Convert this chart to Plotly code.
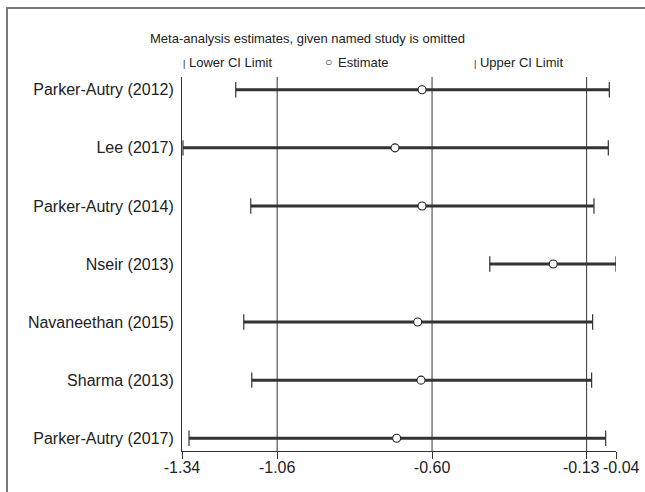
import plotly.graph_objects as go

studies = ["Parker-Autry (2012)", "Lee (2017)", "Parker-Autry (2014)", "Nseir (2013)",
           "Navaneethan (2015)", "Sharma (2013)", "Parker-Autry (2017)"]
lower = [-1.179, -1.337, -1.134, -0.418, -1.155, -1.131, -1.319]
estimate = [-0.621, -0.702, -0.621, -0.228, -0.634, -0.624, -0.697]
upper = [-0.060, -0.063, -0.106, -0.040, -0.110, -0.113, -0.071]

tick_vals = [-1.34, -1.055, -0.591, -0.128, -0.04]
tick_text = ["-1.34", "-1.06", "-0.60", "-0.13", "-0.04"]
grid_vals = [-1.055, -0.591, -0.128]

FONT = "Liberation Sans, Arial, sans-serif"
rows = list(range(1, len(studies) + 1))

fig = go.Figure()
for i, r in enumerate(rows):
    fig.add_trace(go.Scatter(x=[lower[i], upper[i]], y=[r, r], mode="lines",
                             line=dict(color="#333333", width=3), showlegend=False,
                             hoverinfo="skip"))
fig.add_trace(go.Scatter(x=lower, y=rows, mode="markers", name="Lower CI Limit",
                         marker=dict(symbol="line-ns", size=11, line=dict(color="#333", width=1.2)),
                         showlegend=False))
fig.add_trace(go.Scatter(x=upper, y=rows, mode="markers", name="Upper CI Limit",
                         marker=dict(symbol="line-ns", size=11, line=dict(color="#333", width=1.2)),
                         showlegend=False))
fig.add_trace(go.Scatter(x=estimate, y=rows, mode="markers", name="Estimate",
                         marker=dict(symbol="circle", size=8, color="white",
                                     line=dict(color="#222", width=1.1)),
                         showlegend=False))

shapes = []
for g in grid_vals:
    shapes.append(dict(type="line", xref="x", yref="paper", x0=g, x1=g, y0=0, y1=1,
                       line=dict(color="#333", width=1), layer="below"))

L, R, T, B = 182, 29, 77, 41
W, H = 645, 492
pw, ph = W - L - R, H - T - B


def px(x):
    return (x - L) / pw


def py(y):
    return (H - B - y) / ph


# outer frame
shapes.append(dict(type="rect", xref="paper", yref="paper", x0=px(7), x1=px(660),
                   y0=py(510), y1=py(8),
                   line=dict(color="#7a7a7a", width=2), layer="below"))

TXT = dict(family=FONT, size=13, color="#222")


def note(text, x, y, size=None):
    f = dict(TXT)
    if size:
        f["size"] = size
    return dict(text=text, x=px(x), y=py(y), xref="paper", yref="paper", xanchor="left",
                yanchor="middle", showarrow=False, font=f)


annotations = [
    note("Meta-analysis estimates, given named study is omitted", 148, 38),
    note("<span style='font-size:9px'>|</span> Lower CI Limit", 181, 62),
    note("○", 323, 62, size=12),
    note("Estimate", 336, 62),
    note("<span style='font-size:9px'>|</span> Upper CI Limit", 472, 62),
]
# last two tick labels are squeezed apart as in the reference
AX = dict(family=FONT, size=16, color="#222")
annotations.append(dict(text=tick_text[3], x=tick_vals[3], xref="x", y=py(467), yref="paper",
                        xanchor="center", yanchor="middle", xshift=-5, showarrow=False, font=AX))
annotations.append(dict(text=tick_text[4], x=tick_vals[4], xref="x", y=py(467), yref="paper",
                        xanchor="center", yanchor="middle", xshift=5, showarrow=False, font=AX))
shown_text = tick_text[:3] + ["", ""]

fig.update_layout(
    width=W, height=H,
    margin=dict(l=L, r=R, t=T, b=B, pad=0, autoexpand=False),
    paper_bgcolor="white", plot_bgcolor="white",
    shapes=shapes, annotations=annotations,
    font=dict(family=FONT, size=16, color="#222"),
    xaxis=dict(range=[-1.34, -0.04], tickvals=tick_vals, ticktext=shown_text,
               showgrid=False, zeroline=False, showline=True, linecolor="#333", linewidth=1,
               ticks="outside", ticklen=7, tickcolor="#333", tickwidth=1, tickangle=0,
               ticklabelstandoff=-5, automargin=False, tickfont=AX),
    yaxis=dict(range=[7.22, 0.78], tickvals=rows, ticktext=studies,
               showgrid=False, zeroline=False, showline=True, linecolor="#333", linewidth=1,
               ticks="", ticklen=0, ticklabelstandoff=4, automargin=False, tickfont=AX),
)

fig.write_html("out.html", config={"displayModeBar": False},
               post_script="document.body.style.margin='0';")
